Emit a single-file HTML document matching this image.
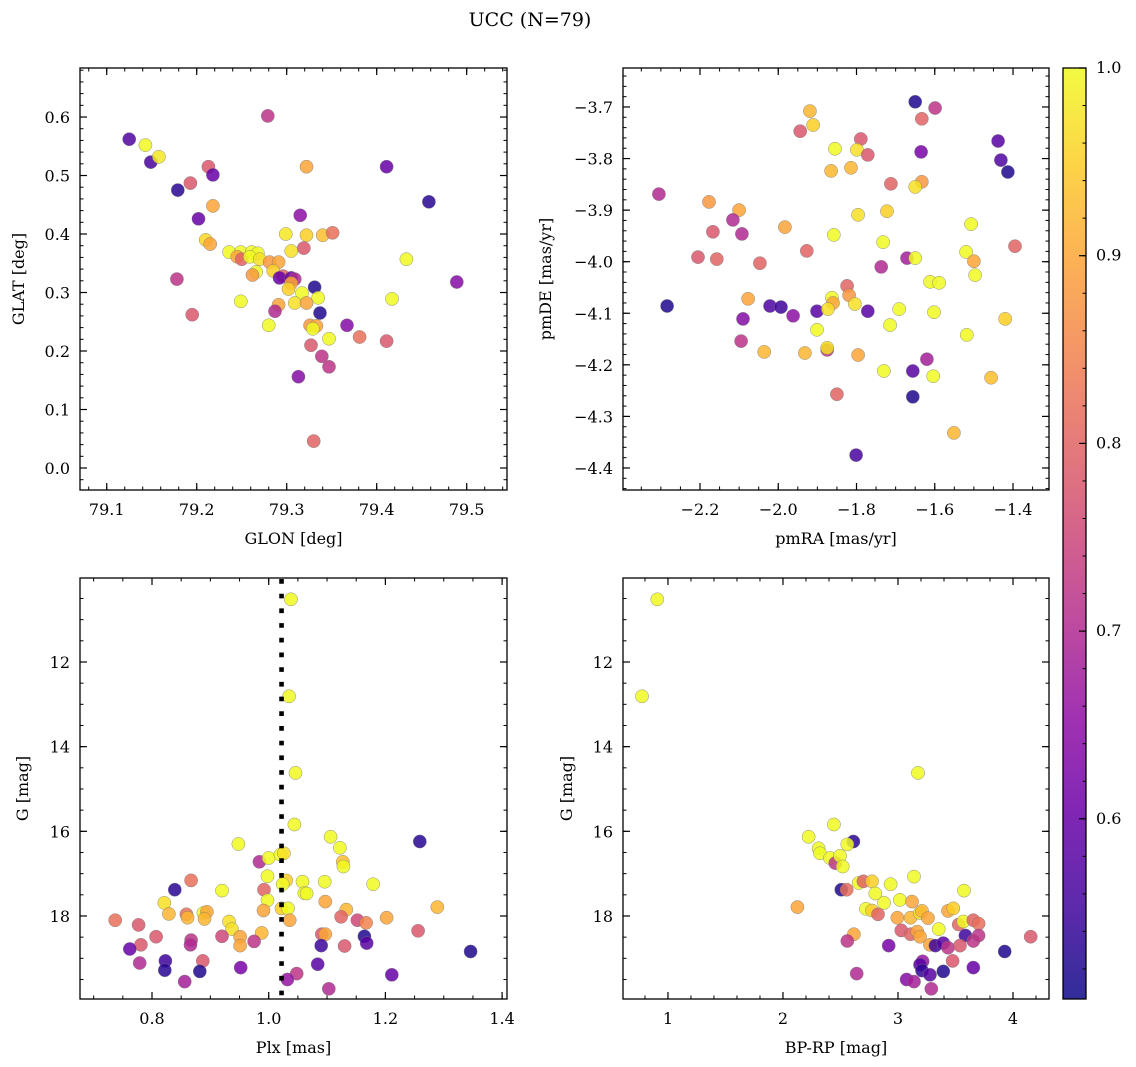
<!DOCTYPE html>
<html><head><meta charset="utf-8">
<style>
html,body{margin:0;padding:0;background:#fff;}
svg{display:block;font-family:"DejaVu Serif","Liberation Serif",serif;}
</style></head>
<body>
<svg id="fig" width="1136" height="1067" viewBox="0 0 1136 1067" xmlns="http://www.w3.org/2000/svg">
<text x="530" y="26" font-size="19" text-anchor="middle">UCC (N=79)</text>
</svg>
<script>
// ---------- data ----------
const p1GLON=[79.279,79.125,79.143,79.149,79.158,79.322,79.411,79.213,79.218,79.193,79.179,79.458,79.218,79.202,79.315,79.299,79.322,79.340,79.351,79.210,79.215,79.319,79.305,79.236,79.433,79.249,79.245,79.250,79.261,79.268,79.259,79.270,79.281,79.291,79.285,79.266,79.262,79.296,79.292,79.305,79.309,79.178,79.489,79.305,79.331,79.302,79.317,79.335,79.249,79.417,79.291,79.309,79.322,79.287,79.337,79.195,79.280,79.326,79.333,79.329,79.367,79.347,79.381,79.411,79.327,79.339,79.347,79.313,79.330];
const p1GLAT=[0.602,0.562,0.552,0.523,0.532,0.515,0.515,0.515,0.501,0.487,0.475,0.455,0.448,0.426,0.432,0.400,0.398,0.398,0.402,0.390,0.383,0.376,0.371,0.369,0.357,0.369,0.361,0.357,0.369,0.367,0.361,0.357,0.352,0.352,0.337,0.335,0.330,0.328,0.325,0.325,0.323,0.323,0.318,0.316,0.309,0.306,0.299,0.291,0.285,0.289,0.279,0.282,0.282,0.268,0.265,0.262,0.244,0.244,0.243,0.238,0.244,0.221,0.224,0.217,0.210,0.191,0.173,0.156,0.046];
const p1P=[0.72,0.57,1.0,0.56,0.98,0.9,0.6,0.78,0.6,0.78,0.53,0.53,0.9,0.6,0.65,0.98,0.95,0.93,0.82,0.96,0.9,0.78,0.97,1.0,1.0,1.0,0.9,0.8,1.0,1.0,1.0,0.97,0.88,0.9,0.95,1.0,0.88,0.8,0.6,0.6,0.7,0.72,0.64,0.9,0.52,0.95,1.0,1.0,1.0,1.0,0.9,0.97,0.9,0.7,0.52,0.78,1.0,0.88,0.9,1.0,0.64,1.0,0.82,0.78,0.78,0.72,0.72,0.64,0.8];

const p2PMRA=[-1.650,-1.599,-1.633,-1.919,-1.911,-1.944,-1.789,-1.855,-1.799,-1.771,-1.635,-1.438,-1.431,-1.413,-1.865,-1.814,-1.712,-1.633,-1.650,-2.305,-2.177,-2.100,-2.116,-2.167,-2.093,-1.983,-1.858,-1.796,-1.722,-1.732,-1.507,-1.395,-2.205,-2.157,-2.047,-1.927,-1.737,-1.671,-1.650,-1.520,-1.500,-1.497,-1.612,-1.589,-2.284,-2.077,-2.021,-1.993,-1.962,-1.901,-2.090,-2.095,-1.824,-1.819,-1.863,-1.860,-1.873,-1.804,-1.771,-1.691,-1.602,-1.420,-1.901,-1.714,-1.518,-2.036,-1.932,-1.875,-1.875,-1.796,-1.620,-1.730,-1.656,-1.604,-1.456,-1.850,-1.656,-1.551,-1.801];
const p2PMDE=[-3.690,-3.702,-3.723,-3.708,-3.735,-3.747,-3.762,-3.781,-3.783,-3.793,-3.787,-3.766,-3.803,-3.826,-3.824,-3.818,-3.849,-3.845,-3.855,-3.869,-3.884,-3.900,-3.919,-3.942,-3.946,-3.933,-3.948,-3.909,-3.902,-3.962,-3.927,-3.970,-3.991,-3.995,-4.003,-3.979,-4.010,-3.993,-3.993,-3.981,-3.999,-4.026,-4.039,-4.041,-4.086,-4.072,-4.086,-4.088,-4.105,-4.096,-4.111,-4.154,-4.047,-4.065,-4.070,-4.080,-4.092,-4.082,-4.096,-4.092,-4.098,-4.111,-4.132,-4.123,-4.142,-4.175,-4.177,-4.171,-4.167,-4.181,-4.189,-4.212,-4.212,-4.222,-4.225,-4.257,-4.262,-4.332,-4.375];
const p2P=[0.52,0.72,0.8,0.92,0.95,0.78,0.78,1.0,0.97,0.78,0.62,0.58,0.57,0.52,0.92,0.92,0.8,0.88,0.97,0.7,0.88,0.9,0.7,0.78,0.7,0.9,1.0,0.97,0.95,1.0,1.0,0.8,0.78,0.8,0.8,0.8,0.7,0.68,1.0,1.0,0.9,1.0,1.0,1.0,0.52,0.9,0.57,0.55,0.65,0.58,0.64,0.72,0.8,0.88,1.0,0.9,0.97,0.97,0.58,1.0,1.0,0.95,1.0,1.0,1.0,0.92,0.92,0.72,0.97,0.9,0.68,1.0,0.58,1.0,0.93,0.8,0.52,0.92,0.56];

const p3PLX=[1.038,1.035,1.046,1.044,1.106,1.122,0.948,1.259,0.984,1.000,1.020,1.026,1.127,1.128,0.998,1.030,1.024,1.058,1.096,1.179,1.061,1.065,0.867,0.839,0.920,0.992,0.998,0.821,1.097,1.289,1.133,0.991,1.022,1.033,0.829,0.859,0.861,0.888,0.894,0.890,1.202,1.036,1.124,1.152,1.167,0.737,0.777,0.932,0.937,0.988,1.256,0.807,0.920,0.951,0.951,0.975,0.867,0.866,0.781,0.762,1.091,1.097,1.164,1.168,1.090,1.130,1.346,0.823,0.779,0.887,0.822,0.882,0.952,1.084,1.048,1.032,1.211,0.856,1.103];
const p3G=[10.52,12.81,14.62,15.84,16.13,16.39,16.30,16.24,16.72,16.63,16.55,16.52,16.72,16.83,17.06,17.16,17.25,17.19,17.19,17.25,17.46,17.47,17.16,17.38,17.40,17.38,17.63,17.69,17.66,17.79,17.85,17.87,17.82,17.82,17.95,17.96,18.04,17.93,17.90,18.07,18.04,18.10,18.02,18.10,18.16,18.10,18.21,18.13,18.31,18.40,18.35,18.49,18.48,18.49,18.70,18.60,18.57,18.68,18.68,18.78,18.43,18.43,18.48,18.64,18.70,18.71,18.84,19.06,19.11,19.06,19.28,19.31,19.22,19.14,19.36,19.50,19.39,19.55,19.72];
const p3P=[1.0,1.0,1.0,1.0,1.0,1.0,1.0,0.53,0.7,1.0,1.0,0.97,0.93,1.0,1.0,0.95,1.0,1.0,1.0,1.0,1.0,1.0,0.82,0.53,1.0,0.8,1.0,0.97,0.9,0.92,0.92,0.9,0.95,1.0,0.92,0.82,0.92,1.0,0.9,0.92,0.9,0.9,0.8,0.75,0.85,0.82,0.78,0.97,0.97,0.92,0.78,0.78,0.75,0.9,0.9,0.72,0.72,0.7,0.78,0.6,0.78,0.9,0.52,0.58,0.55,0.78,0.52,0.55,0.7,0.78,0.53,0.52,0.62,0.58,0.72,0.66,0.6,0.68,0.7];

const p4BPRP=[0.907,0.774,3.174,2.443,2.223,2.612,2.559,2.310,2.322,2.409,2.455,2.496,2.519,3.139,2.658,2.699,2.774,2.936,2.507,2.554,2.803,2.125,3.574,2.878,3.017,3.122,2.722,2.774,2.826,2.994,3.110,3.191,3.209,3.261,3.435,3.481,3.528,3.568,3.655,3.701,3.029,3.110,3.168,3.191,3.354,2.617,2.559,3.278,3.325,3.394,3.435,3.586,3.655,3.701,3.539,4.154,3.928,2.919,3.475,3.214,3.191,3.209,3.278,3.394,3.655,2.641,3.075,3.139,3.290];
const p4G=[10.52,12.81,14.62,15.84,16.13,16.24,16.31,16.40,16.52,16.63,16.75,16.58,16.83,17.07,17.22,17.18,17.18,17.25,17.38,17.38,17.47,17.79,17.40,17.69,17.62,17.66,17.83,17.87,17.96,18.04,18.04,17.93,17.88,18.05,17.88,17.82,18.20,18.13,18.10,18.18,18.34,18.43,18.37,18.49,18.31,18.43,18.59,18.68,18.70,18.64,18.75,18.46,18.59,18.46,18.70,18.49,18.84,18.70,19.06,19.07,19.15,19.29,19.39,19.31,19.22,19.36,19.50,19.55,19.72];
const p4P=[1.0,1.0,1.0,1.0,1.0,0.53,1.0,1.0,1.0,1.0,0.72,1.0,1.0,1.0,1.0,0.8,0.95,1.0,0.52,0.82,1.0,0.9,1.0,1.0,1.0,0.9,1.0,0.95,0.8,0.9,0.92,0.97,0.92,0.9,0.9,0.95,0.8,1.0,0.8,0.82,0.78,0.8,0.9,0.9,1.0,0.9,0.72,0.9,0.55,0.58,0.72,0.55,0.72,0.72,0.78,0.78,0.52,0.62,0.78,0.66,0.58,0.54,0.58,0.52,0.6,0.7,0.64,0.68,0.7];

const p1XTicks=[79.1,79.2,79.3,79.4,79.5];
const p1YTicks=[0.0,0.1,0.2,0.3,0.4,0.5,0.6];
const p2XTicks=[-2.2,-2.0,-1.8,-1.6,-1.4];
const p2YTicks=[-3.7,-3.8,-3.9,-4.0,-4.1,-4.2,-4.3,-4.4];
const p3XTicks=[0.8,1.0,1.2,1.4];
const gTicks=[12,14,16,18];
const p4XTicks=[1,2,3,4];
const cbTicks=[0.6,0.7,0.8,0.9,1.0];
const plxLine=[1.022];

// ---------- helpers ----------
const NS="http://www.w3.org/2000/svg";
const svg=document.getElementById('fig');
function mk(tag,attrs,parent){const e=document.createElementNS(NS,tag);for(const k in attrs)e.setAttribute(k,attrs[k]);(parent||svg).appendChild(e);return e;}
const stops=['#0d0887','#41049d','#6a00a8','#8f0da4','#b12a90','#cc4778','#e16462','#f2844b','#fca636','#fcce25','#f0f921'];
function hex(h){return [parseInt(h.slice(1,3),16),parseInt(h.slice(3,5),16),parseInt(h.slice(5,7),16)];}
const VMIN=0.504,VMAX=1.0;
function plasma(t){t=Math.max(0,Math.min(1,t));const f=t*10,i=Math.min(9,Math.floor(f)),r=f-i;const a=hex(stops[i]),b=hex(stops[i+1]);return 'rgb('+a.map((v,k)=>Math.round(v+(b[k]-v)*r)).join(',')+')';}
function cmap(p){return plasma((p-VMIN)/(VMAX-VMIN));}
function fmt(v,d){let s=v.toFixed(d);return s.replace('-','\u2212');}

function panel(cfg){
  const g=mk('g',{});
  
  
  const {x0,x1,y0,y1}=cfg;
  const sx=v=>x0+(v-cfg.xmin)/(cfg.xmax-cfg.xmin)*(x1-x0);
  const sy=v=>cfg.yinv? y0+(v-cfg.ymin)/(cfg.ymax-cfg.ymin)*(y1-y0) : y1-(v-cfg.ymin)/(cfg.ymax-cfg.ymin)*(y1-y0);
  const pg=mk('g',{},g);
  
  
  for(let i=0;i<cfg.xs.length;i++){
    const c=mk('circle',{cx:sx(cfg.xs[i]).toFixed(1),cy:sy(cfg.ys[i]).toFixed(1),r:6.6,fill:cmap(cfg.ps[i]),'fill-opacity':0.85,stroke:'#777','stroke-width':0.5,'stroke-opacity':0.8},pg);
    
    
  }
  if(cfg.vline){
    for(const v of cfg.vline){
      const l=mk('line',{x1:sx(v),x2:sx(v),y1:y0+1,y2:y1,stroke:'#000','stroke-width':4.6,'stroke-dasharray':'4.7 10'},g);
      
      
    }
  }
  const fr=mk('rect',{x:x0,y:y0,width:x1-x0,height:y1-y0,fill:'none',stroke:'#000','stroke-width':1.3},g);
  
  
  const eps=1e-9;
  let a=Math.ceil(cfg.xmin/cfg.xminor-eps)*cfg.xminor;
  for(;a<=cfg.xmax;a+=cfg.xminor){const X=sx(a);mk('line',{x1:X,x2:X,y1:y1,y2:y1-3.5,stroke:'#000','stroke-width':1},g);mk('line',{x1:X,x2:X,y1:y0,y2:y0+3.5,stroke:'#000','stroke-width':1},g);}
  a=Math.ceil(Math.min(cfg.ymin,cfg.ymax)/cfg.yminor-eps)*cfg.yminor;
  for(;a<=Math.max(cfg.ymin,cfg.ymax);a+=cfg.yminor){const Y=sy(a);mk('line',{x1:x0,x2:x0+3.5,y1:Y,y2:Y,stroke:'#000','stroke-width':1},g);mk('line',{x1:x1,x2:x1-3.5,y1:Y,y2:Y,stroke:'#000','stroke-width':1},g);}
  for(const v of cfg.xticks){const X=sx(v);
    mk('line',{x1:X,x2:X,y1:y1,y2:y1-7,stroke:'#000','stroke-width':1.2},g);mk('line',{x1:X,x2:X,y1:y0,y2:y0+7,stroke:'#000','stroke-width':1.2},g);
    const t=mk('text',{x:X,y:y1+25,'font-size':16,'text-anchor':'middle'},g);t.textContent=fmt(v,cfg.xdec);
    
    }
  for(const v of cfg.yticks){const Y=sy(v);
    mk('line',{x1:x0,x2:x0+7,y1:Y,y2:Y,stroke:'#000','stroke-width':1.2},g);mk('line',{x1:x1,x2:x1-7,y1:Y,y2:Y,stroke:'#000','stroke-width':1.2},g);
    const t=mk('text',{x:x0-10,y:Y+6,'font-size':16,'text-anchor':'end'},g);t.textContent=fmt(v,cfg.ydec);
    
    }
  const xl=mk('text',{x:(x0+x1)/2,y:y1+54,'font-size':16,'text-anchor':'middle'},g);xl.textContent=cfg.xlabel;
  
  
  const yx=cfg.ylx, yy=(y0+y1)/2;
  const yl=mk('text',{x:yx,y:yy,'font-size':16,'text-anchor':'middle',transform:'rotate(-90 '+yx+' '+yy+')'},g);yl.textContent=cfg.ylabel;
  
  
}

panel({name:'glon-glat-panel',x0:80,x1:507,y0:68,y1:490,xmin:79.0703,xmax:79.5448,ymin:-0.0376,ymax:0.6838,xticks:p1XTicks,yticks:p1YTicks,xminor:0.02,yminor:0.02,xdec:1,ydec:1,xlabel:'GLON [deg]',ylabel:'GLAT [deg]',ylx:24,xs:p1GLON,ys:p1GLAT,ps:p1P});
panel({name:'proper-motion-panel',x0:623,x1:1049,y0:68,y1:490,xmin:-2.3968,xmax:-1.308,ymin:-4.4427,ymax:-3.6244,xticks:p2XTicks,yticks:p2YTicks,xminor:0.05,yminor:0.02,xdec:1,ydec:1,xlabel:'pmRA [mas/yr]',ylabel:'pmDE [mas/yr]',ylx:551,xs:p2PMRA,ys:p2PMDE,ps:p2P});
panel({name:'parallax-panel',x0:80,x1:507,y0:578,y1:999,xmin:0.6766,xmax:1.4084,ymin:10.016,ymax:19.961,yinv:true,xticks:p3XTicks,yticks:gTicks,xminor:0.05,yminor:0.5,xdec:1,ydec:0,xlabel:'Plx [mas]',ylabel:'G [mag]',ylx:28,xs:p3PLX,ys:p3G,ps:p3P,vline:plxLine});
panel({name:'cmd-panel',x0:623,x1:1049,y0:578,y1:999,xmin:0.609,xmax:4.313,ymin:10.016,ymax:19.961,yinv:true,xticks:p4XTicks,yticks:gTicks,xminor:0.2,yminor:0.5,xdec:0,ydec:0,xlabel:'BP-RP [mag]',ylabel:'G [mag]',ylx:572,xs:p4BPRP,ys:p4G,ps:p4P});

(function(){
  const g=mk('g',{});
  
  
  const cx0=1063,cx1=1086,cy0=68,cy1=999;
  const defs=mk('defs',{},g);
  const lg=mk('linearGradient',{id:'cbg',x1:0,y1:1,x2:0,y2:0},defs);
  for(let i=0;i<=20;i++){mk('stop',{offset:(i/20),'stop-color':plasma(i/20),'stop-opacity':0.85},lg);}
  mk('rect',{x:cx0,y:cy0,width:cx1-cx0,height:cy1-cy0,fill:'url(#cbg)'},g);
  mk('rect',{x:cx0,y:cy0,width:cx1-cx0,height:cy1-cy0,fill:'none',stroke:'#000','stroke-width':1.3},g);
  const sy=v=>cy1-(v-VMIN)/(VMAX-VMIN)*(cy1-cy0);
  for(let v=0.52;v<=1.0001;v+=0.02){const Y=sy(v);mk('line',{x1:cx1,x2:cx1-3.5,y1:Y,y2:Y,stroke:'#000','stroke-width':1},g);}
  for(const v of cbTicks){const Y=sy(v);
    mk('line',{x1:cx1,x2:cx1-7,y1:Y,y2:Y,stroke:'#000','stroke-width':1.2},g);
    const t=mk('text',{x:cx1+10,y:Y+5,'font-size':16},g);t.textContent=v.toFixed(1);
    
    }
})();
</script>
</body></html>
